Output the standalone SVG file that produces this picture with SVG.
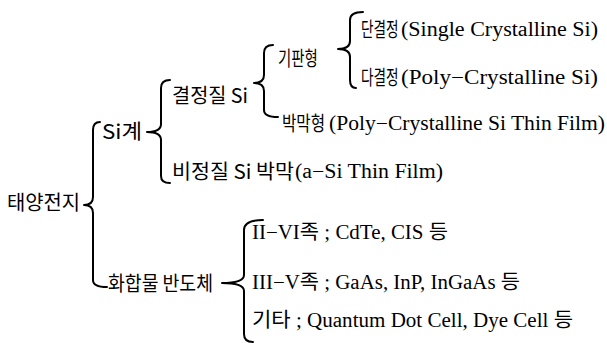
<svg xmlns="http://www.w3.org/2000/svg" width="607" height="343" viewBox="0 0 607 343">
<style>
.ko{font-family:"Noto Sans CJK KR","Noto Sans",sans-serif;font-size:20px;fill:#000}
.mx{font-family:"Liberation Serif","Noto Sans CJK KR",serif;font-size:20px;fill:#000}
.br{fill:none;stroke:#000;stroke-width:2;stroke-linecap:round;stroke-linejoin:round}
</style>
<rect width="607" height="343" fill="#fff"/>
<g id="connectors">
<path class="br" d="M100,122 Q93,122 93,130 L93,197 Q93,205 84,205 Q93,205 93,213 L93,280 Q93,287 107,287"/>
<path class="br" d="M170,80 Q161,80 161,88 L161,124 Q161,132 147,132 Q161,132 161,140 L161,176 Q161,183 170,183"/>
<path class="br" d="M273,45 Q264,45 264,53 L264,75 Q264,83 254,83 Q264,83 264,91 L264,110 Q264,117 278,117"/>
<path class="br" d="M363,12 Q350,12 350,20 L350,41 Q350,49 338,49 Q350,49 350,57 L350,80 Q350,88 356,88"/>
<path class="br" d="M263,220 Q244,220 244,230 L244,275 Q244,283 222,283 Q244,283 244,291 L244,334 Q244,342 253,342"/>
</g>
<g id="n-root"><text class="ko" x="7" y="210" textLength="73" lengthAdjust="spacingAndGlyphs">태양전지</text></g>
<g id="n-si"><text class="ko" x="102" y="139" textLength="40" lengthAdjust="spacingAndGlyphs">Si계</text></g>
<g id="n-crys"><text class="ko" x="172" y="103" textLength="76" lengthAdjust="spacingAndGlyphs">결정질 Si</text></g>
<g id="n-amor">
<text class="ko" x="172" y="179" textLength="122" lengthAdjust="spacingAndGlyphs">비정질 Si 박막</text>
<text class="mx" x="295" y="178" textLength="148" lengthAdjust="spacingAndGlyphs">(a−Si Thin Film)</text>
</g>
<g id="n-wafer"><text class="ko" transform="translate(278,66) scale(0.72,1)">기판형</text></g>
<g id="n-thin">
<text class="ko" transform="translate(282,131) scale(0.78,1)">박막형</text>
<text class="mx" x="329" y="130" textLength="276" lengthAdjust="spacingAndGlyphs">(Poly−Crystalline Si Thin Film)</text>
</g>
<g id="n-single">
<text class="ko" transform="translate(361,37) scale(0.68,1)">단결정</text>
<text class="mx" x="401" y="36" textLength="197" lengthAdjust="spacingAndGlyphs">(Single Crystalline Si)</text>
</g>
<g id="n-poly">
<text class="ko" transform="translate(361,85) scale(0.68,1)">다결정</text>
<text class="mx" x="401" y="84" textLength="197" lengthAdjust="spacingAndGlyphs">(Poly−Crystalline Si)</text>
</g>
<g id="n-comp"><text class="ko" x="108" y="291" textLength="105" lengthAdjust="spacingAndGlyphs">화합물 반도체</text></g>
<g id="n-2-6"><text class="mx" x="252" y="239" textLength="196" lengthAdjust="spacingAndGlyphs">II−VI족 ; CdTe, CIS 등</text></g>
<g id="n-3-5"><text class="mx" x="252" y="289" textLength="268" lengthAdjust="spacingAndGlyphs">III−V족 ; GaAs, InP, InGaAs 등</text></g>
<g id="n-etc"><text class="mx" x="252" y="327" textLength="321" lengthAdjust="spacingAndGlyphs">기타 ; Quantum Dot Cell, Dye Cell 등</text></g>
</svg>
